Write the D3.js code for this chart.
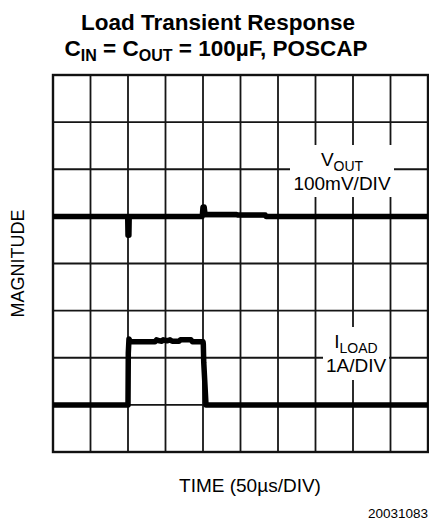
<!DOCTYPE html>
<html lang="en">
<head>
    <meta charset='utf-8'>
    <title>Load Transient Response</title>
    <script src="https://cdn.jsdelivr.net/npm/d3@7"></script>
    <style>
        body { margin: 0; background: #fff; }
        svg { display: block; font-family: "Liberation Sans", Arial, sans-serif; }
    </style>
</head>
<body>
<svg></svg>
<script>
    // scope settings: 10 x 8 divisions, 50us/div
    const timeTicks = [0, 50, 100, 150, 200, 250, 300, 350, 400, 450, 500]
    const divTicks = [0, 1, 2, 3, 4, 5, 6, 7, 8]

    // VOUT deviation, [us, mV] (100mV/DIV, trace centred on division 5)
    const voutTime = [0, 99.6, 100, 101.2, 101.6, 199, 200, 201.5, 202.8, 245, 246, 283, 284, 500]
    const voutMv = [0, 0, -40, -40, 0, 0, 20, 20, 4, 4, 3, 3, 0, 0]

    // ILOAD, [us, A] (1A/DIV, zero on division 1)
    const iloadTime = [0, 100, 100.4, 101.3, 103, 136, 138, 142, 145, 147, 152, 156, 159, 168, 170, 184, 186, 200, 200.4, 201, 204, 500]
    const iloadAmp = [0, 0, 1.1, 1.4, 1.34, 1.34, 1.38, 1.36, 1.35, 1.38, 1.36, 1.38, 1.35, 1.35, 1.38, 1.38, 1.34, 1.34, 1.3, 0.9, 0, 0]

    const width = 429
    const height = 523
    const margin = ({top: 75, right: 1, bottom: 71, left: 53})

    const x = d3.scaleLinear()
        .domain([0, 500])
        .range([margin.left, width - margin.right])

    const y = d3.scaleLinear()
        .domain([0, 8])
        .range([height - margin.bottom, margin.top])

    const svg = d3.select("svg")
        .attr("width", width)
        .attr("height", height)
        .attr("viewBox", [0, 0, width, height])

    // grid
    svg.append("g")
        .attr("stroke", "#151515")
        .attr("stroke-width", 1.8)
        .call(g => g.selectAll(".v")
            .data(timeTicks)
            .join("line")
            .attr("x1", d => x(d)).attr("x2", d => x(d))
            .attr("y1", y(0)).attr("y2", y(8)))
        .call(g => g.selectAll(".h")
            .data(divTicks)
            .join("line")
            .attr("x1", x(0)).attr("x2", x(500))
            .attr("y1", d => y(d)).attr("y2", d => y(d)))

    svg.append("rect")
        .attr("x", x(0))
        .attr("y", y(8))
        .attr("width", x(500) - x(0))
        .attr("height", y(0) - y(8))
        .attr("fill", "none")
        .attr("stroke", "#111")
        .attr("stroke-width", 2.4)

    const line = d3.line()
        .x(d => x(d[0]))
        .y(d => d[1])

    const vout = voutTime.map((t, i) => [t, y(5 + voutMv[i] / 100)])
    const iload = iloadTime.map((t, i) => [t, y(1 + iloadAmp[i])])

    svg.append("g")
        .attr("fill", "none")
        .attr("stroke", "#000")
        .attr("stroke-width", 5.5)
        .attr("stroke-linejoin", "round")
        .selectAll("path")
        .data([vout, iload])
        .join("path")
        .attr("d", line)

    // channel labels on white patches
    const label = (cx, top, w, h, main, sub, scale) => {
        const g = svg.append("g")
        g.append("rect")
            .attr("x", cx - w / 2).attr("y", top)
            .attr("width", w).attr("height", h)
            .attr("fill", "#fff")
        const t = g.append("text")
            .attr("x", cx)
            .attr("y", top + 21)
            .attr("text-anchor", "middle")
            .attr("font-size", 19)
        t.append("tspan").text(main)
        t.append("tspan").attr("font-size", 14).attr("dy", 5).text(sub)
        g.append("text")
            .attr("x", cx)
            .attr("y", top + 45)
            .attr("text-anchor", "middle")
            .attr("font-size", 19)
            .text(scale)
    }

    label(342, 145, 104, 52, "V", "OUT", "100mV/DIV")
    label(356, 327, 66, 53, "I", "LOAD", "1A/DIV")

    // titles
    svg.append("text")
        .attr("x", 218)
        .attr("y", 30)
        .attr("text-anchor", "middle")
        .attr("font-size", 22.5)
        .attr("font-weight", "bold")
        .text("Load Transient Response")

    const sub = svg.append("text")
        .attr("x", 216)
        .attr("y", 56)
        .attr("text-anchor", "middle")
        .attr("font-size", 22.5)
        .attr("font-weight", "bold")
    sub.append("tspan").text("C")
    sub.append("tspan").attr("font-size", 16).attr("dy", 5).text("IN")
    sub.append("tspan").attr("dy", -5).text(" = C")
    sub.append("tspan").attr("font-size", 16).attr("dy", 5).text("OUT")
    sub.append("tspan").attr("dy", -5).text(" = 100µF, POSCAP")

    svg.append("text")
        .attr("transform", `translate(24,${(y(0) + y(8)) / 2}) rotate(-90)`)
        .attr("text-anchor", "middle")
        .attr("font-size", 18)
        .text("MAGNITUDE")

    svg.append("text")
        .attr("x", 250)
        .attr("y", 492)
        .attr("text-anchor", "middle")
        .attr("font-size", 19)
        .text("TIME (50µs/DIV)")

    svg.append("text")
        .attr("x", 428)
        .attr("y", 518)
        .attr("text-anchor", "end")
        .attr("font-size", 13.5)
        .text("20031083")
</script>
</body>
</html>
